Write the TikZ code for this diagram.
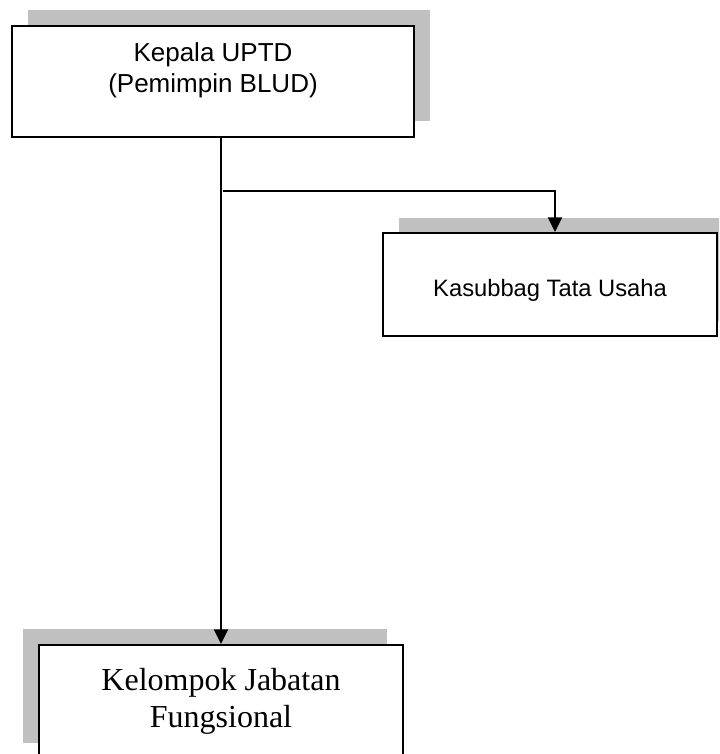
\documentclass[tikz,border=0pt]{standalone}
\usepackage{fontspec}
\setmainfont{Liberation Serif}
\newfontfamily\arialfont{Liberation Sans}
\usetikzlibrary{arrows.meta}
\definecolor{shadowgray}{HTML}{C0C0C0}
\begin{document}
\begin{tikzpicture}[x=0.75pt,y=-0.75pt,
  orgbox/.style={draw=black, fill=white, line width=1.5pt, inner sep=0pt},
  shadowbox/.style={fill=shadowgray, draw=none, inner sep=0pt},
  txtarial/.style={font=\arialfont\fontsize{19.5}{23.5}\selectfont, inner sep=0pt, align=center},
  txtsmall/.style={font=\arialfont\fontsize{17.8}{21}\selectfont, inner sep=0pt},
  txtserif/.style={font=\fontsize{24}{27.75}\selectfont, inner sep=0pt, align=center},
  conn/.style={line width=1.5pt, draw=black},
  arrowconn/.style={conn, -{Triangle[length=11pt,width=10.5pt]}}
]
\useasboundingbox (0,0) rectangle (719,754);
\clip (0,0) rectangle (719,754);
% shadows
\node[shadowbox, minimum width=301.5pt, minimum height=83.25pt] (kepalaS) at (229,65.5) {};
\node[shadowbox, minimum width=250.5pt, minimum height=77.25pt] (kasubbagS) at (566,269.5) {};
\node[shadowbox, minimum width=273pt, minimum height=85.5pt] (kelompokS) at (205,686) {};
% boxes
\node[orgbox, minimum width=301.5pt, minimum height=83.25pt] (kepala) at (213,81.5) {};
\node[orgbox, minimum width=250.5pt, minimum height=77.25pt] (kasubbag) at (550,284.5) {};
\node[orgbox, minimum width=273pt, minimum height=85.5pt] (kelompok) at (221,702) {};
% texts
\node[txtarial, anchor=north] (kepalaT) at (213,42) {Kepala UPTD\\(Pemimpin BLUD)};
\node[txtsmall, anchor=base] (kasubbagT) at (550,296) {Kasubbag Tata Usaha};
\node[txtserif, anchor=north] (kelompokT) at (221,668) {Kelompok Jabatan\\Fungsional};
% connectors
\draw[arrowconn] (kelompok.north |- kepala.south) -- (kelompok.north);
\coordinate (branch) at (223,191);
\coordinate (kasubbagIn) at ([xshift=3.75pt]kasubbag.north);
\draw[arrowconn] (branch) -| (kasubbagIn);
\end{tikzpicture}
\end{document}
